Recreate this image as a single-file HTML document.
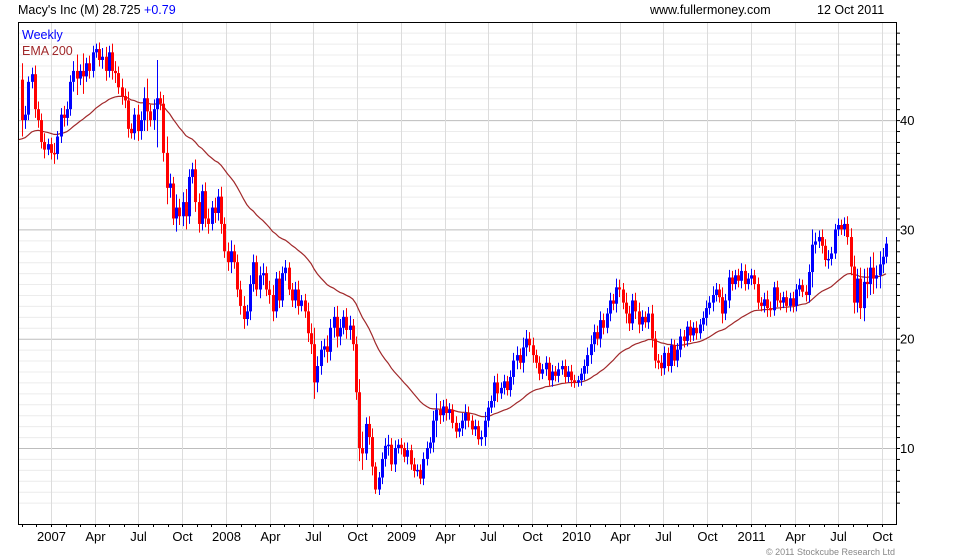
<!DOCTYPE html>
<html><head><meta charset="utf-8"><style>
html,body{margin:0;padding:0;background:#fff;}
svg{display:block;font-family:"Liberation Sans",sans-serif;}
</style></head><body>
<svg id="chart" width="980" height="560" viewBox="0 0 980 560" xmlns="http://www.w3.org/2000/svg">
<rect x="0" y="0" width="980" height="560" fill="#fff"/>
<g id="grid"></g>
<g id="ema"></g>
<g id="candles"></g>
<g id="axes"></g>
<text x="18" y="14" font-size="12.5" fill="#000">Macy's Inc (M) 28.725 <tspan fill="#0000ff">+0.79</tspan></text>
<text x="650" y="14" font-size="12.5" fill="#000">www.fullermoney.com</text>
<text x="817" y="14" font-size="12.5" fill="#000">12 Oct 2011</text>
<text x="22" y="39" font-size="12.5" fill="#0000ff">Weekly</text>
<text x="22" y="55" font-size="12.5" fill="#a0282a">EMA 200</text>
<text x="895" y="555" font-size="9" fill="#888" text-anchor="end">© 2011 Stockcube Research Ltd</text>
</svg>
<script>
const closes=[40.0,40.5,43.5,44.2,41.0,40.0,38.0,37.3,37.8,37.0,36.9,38.5,40.5,40.2,41.0,43.5,44.5,43.8,44.5,44.0,
45.2,44.5,46.2,46.5,45.5,45.8,44.5,46.2,44.5,44.3,43.0,42.2,41.8,39.2,38.8,40.5,39.0,40.0,42.0,40.8,
40.0,41.0,42.0,41.5,37.0,33.8,34.2,31.0,32.0,31.2,32.5,31.2,34.8,35.5,32.5,30.5,33.5,31.0,30.5,
32.0,31.5,33.0,30.5,28.0,27.0,28.0,27.0,24.5,23.0,21.8,22.5,25.0,27.0,24.5,25.8,26.0,24.5,
24.0,22.5,25.5,23.5,26.0,26.5,24.5,23.5,24.5,23.0,23.5,22.5,20.5,19.5,16.0,17.5,19.0,19.3,
18.8,21.0,22.0,20.2,21.0,22.0,20.8,21.2,19.5,15.1,10.0,9.5,12.2,11.0,8.3,6.2,7.3,9.0,10.2,
10.3,8.5,10.0,10.3,10.0,9.2,9.8,8.5,7.9,8.0,7.2,9.0,10.0,10.5,12.5,13.5,13.0,13.8,13.2,13.5,
12.3,11.5,11.8,12.5,13.2,12.5,11.7,12.0,10.8,11.0,12.5,13.7,14.3,16.0,15.0,15.5,16.1,15.3,16.5,18.0,
18.5,17.8,19.2,20.0,19.4,18.5,17.8,16.8,17.2,17.8,16.2,17.0,16.6,17.2,17.5,16.5,17.0,16.2,16.0,16.2,
16.8,17.5,18.5,19.5,20.6,20.0,21.7,21.0,22.3,23.5,23.2,24.7,24.5,23.3,22.3,21.4,23.5,22.5,21.3,22.0,
21.5,22.3,20.0,18.0,17.8,17.3,18.7,17.5,19.4,18.0,19.0,20.2,19.8,21.1,20.3,21.0,20.5,21.3,21.9,22.8,
23.3,24.0,24.5,23.8,22.3,23.5,25.6,25.0,25.8,25.3,26.2,25.0,25.5,25.8,25.0,23.3,23.0,23.6,22.8,22.6,
24.7,23.5,23.3,23.8,23.0,23.7,23.0,24.5,24.9,24.3,24.0,26.1,28.6,28.9,29.3,28.5,27.2,27.3,27.8,30.0,
30.4,30.0,30.5,29.3,26.6,23.3,25.5,22.8,25.2,25.0,26.5,25.5,25.8,26.8,27.5,28.7];
const firstOpen=43.7;
const wicks=[1.5,0.8,0.5,0.6,0.8,0.7,0.6,0.8,0.5,0.6,0.9,0.5,0.6,0.8,0.7,0.6,0.9,1.5,0.6,1.6,
0.5,0.7,0.6,0.5,0.6,0.8,0.9,0.6,0.8,0.9,0.6,0.8,0.7,0.8,0.5,0.6,0.9,0.8,1.0,1.8,
0.6,0.9,3.5,0.6,0.8,1.5,0.9,0.6,1.2,0.8,0.9,1.2,0.7,0.6,0.9,0.8,0.6,0.8,0.9,
0.6,0.9,0.7,0.9,0.6,0.8,1.0,0.6,0.7,0.8,0.9,0.6,0.8,0.7,0.6,0.8,0.9,0.6,
0.8,0.9,0.6,0.7,0.6,0.7,0.5,0.6,0.7,0.8,0.5,0.6,0.8,0.9,1.5,0.9,0.8,0.7,
1.0,0.8,0.9,1.0,0.8,0.6,0.8,0.9,0.6,0.7,1.2,1.5,0.6,0.7,0.8,0.4,0.5,0.6,0.7,
0.9,0.6,0.7,0.5,0.6,0.5,0.7,0.5,0.6,0.5,0.5,0.6,0.6,0.5,0.9,1.5,0.8,0.6,0.7,0.6,
0.5,0.6,0.5,0.7,0.8,0.6,0.5,0.6,0.5,0.6,0.8,0.6,0.5,0.6,0.8,0.5,0.6,0.5,0.6,0.7,
0.8,0.6,0.9,0.8,0.6,0.7,0.5,0.6,0.5,0.6,0.5,0.6,0.5,0.6,0.5,0.6,0.5,0.6,0.5,0.4,
0.5,0.6,0.7,0.8,0.7,0.6,0.8,0.6,0.5,0.7,0.6,0.8,0.7,0.6,0.9,0.7,0.6,0.7,0.8,0.6,
0.5,0.6,0.8,0.7,0.6,0.7,0.6,0.5,0.6,0.5,0.6,0.7,0.6,0.5,0.6,0.5,0.6,0.5,0.6,0.7,
0.6,0.8,0.6,0.5,0.9,0.6,0.7,0.6,0.5,0.6,0.7,0.6,0.5,0.6,0.5,0.6,0.5,0.6,0.8,0.6,
0.5,0.6,0.7,0.5,0.6,0.5,0.6,0.5,0.6,0.5,0.6,0.7,1.4,0.8,0.6,0.7,0.6,0.8,0.6,0.5,
0.6,0.5,0.6,0.7,0.8,1.0,0.9,1.0,1.2,1.3,1.0,1.4,0.9,1.2,0.8,0.6];
const xLabels=["2007","Apr","Jul","Oct","2008","Apr","Jul","Oct","2009","Apr","Jul","Oct","2010","Apr","Jul","Oct","2011","Apr","Jul","Oct"];
const yTicks=[10,20,30,40];
const emaSeed=38.2;
const emaPeriod=40;

const NS="http://www.w3.org/2000/svg";
const L=18,R=896,T=22,B=524;
function yScale(v){return 448-(v-10)*10.93;}
const n=closes.length;
function xScale(i){return 22+i*(864/(n-1));}
function qx(q){return 51+q*43.74;}
function mk(tag,attrs,parent){const e=document.createElementNS(NS,tag);for(const k in attrs)e.setAttribute(k,attrs[k]);parent.appendChild(e);return e;}
const grid=document.getElementById('grid'),axes=document.getElementById('axes'),cg=document.getElementById('candles'),eg=document.getElementById('ema');
for(let v=5;v<=48;v++){const y=yScale(v);if(y<T||y>B)continue;
 const ln=mk('line',{x1:L,x2:R,y1:y+0.5,y2:y+0.5,stroke:(v%10===0)?'#bdbdbd':'#ececec','stroke-width':1},grid);
 
 
 const tk=mk('line',{x1:R,x2:R+4,y1:y+0.5,y2:y+0.5,stroke:'#000'},axes);
 
 
}
xLabels.forEach((lab,q)=>{const x=Math.round(qx(q))+0.5;
 const ln=mk('line',{x1:x,x2:x,y1:T,y2:B,stroke:'#dcdcdc'},grid);
 
 
 const t=mk('text',{x:x,y:541,'font-size':13,'text-anchor':'middle',fill:'#000'},axes);t.textContent=lab;
 
 
});
for(let m=-2;m<=58;m++){const x=Math.round(51+m*43.74/3)+0.5;if(x<L||x>R)continue;
 const tk=mk('line',{x1:x,x2:x,y1:B,y2:B+3,stroke:'#000'},axes);
 
 
}
yTicks.forEach(v=>{const t=mk('text',{x:900,y:yScale(v)+5,'font-size':13,fill:'#000'},axes);t.textContent=v;
 
 
});
const frame=mk('rect',{x:L+0.5,y:T+0.5,width:R-L,height:B-T,fill:'none',stroke:'#000'},axes);


const alpha=2/(emaPeriod+1);let e=emaSeed;let pts=[];
pts.push([L,yScale(e)]);
closes.forEach((c,i)=>{e=e+alpha*(c-e);pts.push([xScale(i),yScale(e)]);});
const pl=mk('polyline',{points:pts.map(p=>p[0].toFixed(1)+','+p[1].toFixed(1)).join(' '),fill:'none',stroke:'#a0282a','stroke-width':1.2},eg);


closes.forEach((c,i)=>{const o=i===0?firstOpen:closes[i-1];const w=wicks[i]||0.6;
 const hi=Math.max(o,c)+w,lo=Math.min(o,c)-w;const col=c>=o?'#0000ff':'#ff0000';
 const x=Math.round(xScale(i));
 const g=mk('g',{},cg);
 
 
 mk('line',{x1:x+0.5,x2:x+0.5,y1:yScale(hi),y2:yScale(lo),stroke:col,'stroke-width':1},g);
 const top=yScale(Math.max(o,c)),bot=yScale(Math.min(o,c));
 mk('rect',{x:x-1,y:top,width:3,height:Math.max(1.5,bot-top),fill:col},g);
});
</script>
</body></html>
